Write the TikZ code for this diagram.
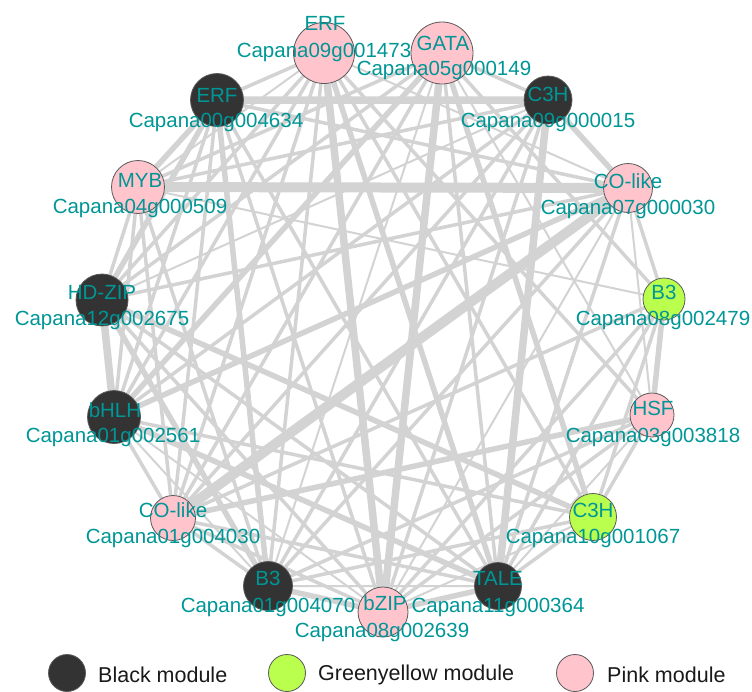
\documentclass[tikz,border=0pt]{standalone}
\usepackage{fontspec}
\setmainfont{Liberation Sans}
\usepackage{xcolor}
\definecolor{modblack}{HTML}{333333}
\definecolor{modgreen}{HTML}{BAFF4E}
\definecolor{modpink}{HTML}{FFC4CC}
\definecolor{labteal}{HTML}{009696}
\definecolor{edgegray}{HTML}{D3D3D3}
\usetikzlibrary{backgrounds}

\begin{document}
\begin{tikzpicture}[
  x=1pt, y=-1pt,
  font=\fontsize{20.5pt}{24pt}\selectfont,
  tf/.style={circle, draw=black!65, line width=0.8pt, inner sep=0pt},
  blk/.style={tf, fill=modblack},
  grn/.style={tf, fill=modgreen},
  pnk/.style={tf, fill=modpink},
  lab/.style={text=labteal, inner sep=0pt},
  leg/.style={font=\fontsize{21.5pt}{25pt}\selectfont, text=black!90, anchor=west, inner sep=0pt},
  e1/.style={draw=edgegray, line width=2pt},
  e2/.style={draw=edgegray, line width=3.5pt},
  e3/.style={draw=edgegray, line width=5.5pt},
  e4/.style={draw=edgegray, line width=7.5pt},
  e5/.style={draw=edgegray, line width=10pt},
]
\useasboundingbox (0,0) rectangle (752,691);

% transcription factors, around the circle
\node[pnk, minimum size=61pt] (erfA)  at (324,53)  {};
\node[pnk, minimum size=62pt] (gata)  at (442,53)  {};
\node[blk, minimum size=48pt] (cthA)  at (548,100) {};
\node[pnk, minimum size=49pt] (colA)  at (628,188) {};
\node[grn, minimum size=42pt] (btA)   at (664,299) {};
\node[pnk, minimum size=44pt] (hsf)   at (652,415) {};
\node[grn, minimum size=47pt] (cthB)  at (593,517) {};
\node[blk, minimum size=47pt] (tale)  at (498,586) {};
\node[pnk, minimum size=50pt] (bzip)  at (383,612) {};
\node[blk, minimum size=49pt] (btB)   at (268,586) {};
\node[pnk, minimum size=45pt] (colB)  at (173,518) {};
\node[blk, minimum size=53pt] (bhlh)  at (114,417) {};
\node[blk, minimum size=52pt] (hdzip) at (102,300) {};
\node[pnk, minimum size=53pt] (myb)   at (138,187) {};
\node[blk, minimum size=53pt] (erfB)  at (217,100) {};

% co-expression edges
\begin{scope}[on background layer]
\draw[e5] (myb) -- (colA)  (colB) -- (colA);
\draw[e4] (erfB) -- (cthA)  (hdzip) -- (bhlh)  (erfA) -- (bzip)  (gata) -- (bzip)  (cthA) -- (tale);
\draw[e3] (erfB) -- (btB)  (hdzip) -- (btB)  (erfB) -- (myb)  (erfB) -- (hdzip)  (erfA) -- (tale)
  (gata) -- (bhlh)  (gata) -- (cthB)  (cthA) -- (colA)  (colA) -- (bhlh)  (btA) -- (hsf)
  (hsf) -- (colB)  (cthB) -- (hdzip)  (tale) -- (bhlh)  (tale) -- (bzip)  (bzip) -- (btB);
\draw[e2] (erfB) -- (colB)  (erfB) -- (bhlh)  (erfB) -- (bzip)  (erfB) -- (tale)  (erfB) -- (colA)
  (erfB) -- (erfA)  (erfA) -- (bhlh)  (erfA) -- (colB)  (erfA) -- (btB)  (erfA) -- (cthB)
  (erfA) -- (hsf)  (erfA) -- (hdzip)  (gata) -- (myb)  (gata) -- (hdzip)
  (gata) -- (colB)  (gata) -- (tale)  (gata) -- (btA)
  (gata) -- (cthA)  (cthA) -- (myb)  (cthA) -- (bhlh)  (cthA) -- (colB)
  (cthA) -- (btB)  (cthA) -- (bzip)  (colA) -- (hdzip)  (colA) -- (btB)
  (colA) -- (tale)  (colA) -- (btA)
  (btA) -- (colB)  (btA) -- (bzip)  (btA) -- (tale)
  (btA) -- (cthB)  (hsf) -- (btB)  (hsf) -- (bzip)
  (hsf) -- (cthB)  (cthB) -- (bhlh)  (cthB) -- (btB)
  (cthB) -- (tale)  (tale) -- (hdzip)  (tale) -- (colB)
  (bzip) -- (hdzip)  (bzip) -- (colB)
  (btB) -- (myb)  (btB) -- (colB)  (colB) -- (myb)  (colB) -- (bhlh)
  (bhlh) -- (myb)  (hdzip) -- (myb);
\draw[e1] (erfA) -- (myb)  (gata) -- (hsf)  (cthA) -- (hdzip)  (colA) -- (bzip)  (colA) -- (hsf)
  (btA) -- (myb)  (hsf) -- (tale)  (cthB) -- (bzip)  (tale) -- (btB)  (bzip) -- (bhlh)
  (btB) -- (bhlh)  (gata) -- (btB)  (erfA) -- (colA);
\end{scope}

% family and gene labels
\node[lab] (erfAf)  at (325,23)  {ERF};
\node[lab] (erfAg)  at (324,52)  {Capana09g001473};
\node[lab] (gataf)  at (443,43)  {GATA};
\node[lab] (gatag)  at (444,70)  {Capana05g000149};
\node[lab] (cthAf)  at (548,94)  {C3H};
\node[lab] (cthAg)  at (548,122) {Capana09g000015};
\node[lab] (colAf)  at (628,181) {CO-like};
\node[lab] (colAg)  at (628,209) {Capana07g000030};
\node[lab] (btAf)   at (664,292) {B3};
\node[lab] (btAg)   at (663,320) {Capana08g002479};
\node[lab] (hsff)   at (653,408) {HSF};
\node[lab] (hsfg)   at (653,437) {Capana03g003818};
\node[lab] (cthBf)  at (593,510) {C3H};
\node[lab] (cthBg)  at (593,538) {Capana10g001067};
\node[lab] (talef)  at (498,578) {TALE};
\node[lab] (taleg)  at (498,607) {Capana11g000364};
\node[lab] (bzipf)  at (385,603) {bZIP};
\node[lab] (bzipg)  at (382,632) {Capana08g002639};
\node[lab] (btBf)   at (268,578) {B3};
\node[lab] (btBg)   at (268,607) {Capana01g004070};
\node[lab] (colBf)  at (173,510) {CO-like};
\node[lab] (colBg)  at (173,538) {Capana01g004030};
\node[lab] (bhlhf)  at (115,410) {bHLH};
\node[lab] (bhlhg)  at (113,437) {Capana01g002561};
\node[lab] (hdzipf) at (102,292) {HD-ZIP};
\node[lab] (hdzipg) at (102,320) {Capana12g002675};
\node[lab] (mybf)   at (140,180) {MYB};
\node[lab] (mybg)   at (140,208) {Capana04g000509};
\node[lab] (erfBf)  at (217,95)  {ERF};
\node[lab] (erfBg)  at (216,122) {Capana00g004634};

% legend
\node[blk, minimum size=37pt] (kblk) at (67,673)  {};
\node[leg] (kblkt) at (98,675)  {Black module};
\node[grn, minimum size=37pt] (kgrn) at (287,673) {};
\node[leg] (kgrnt) at (318,675) {Greenyellow module};
\node[pnk, minimum size=37pt] (kpnk) at (575,673) {};
\node[leg] (kpnkt) at (607,675) {Pink module};
\end{tikzpicture}
\end{document}
